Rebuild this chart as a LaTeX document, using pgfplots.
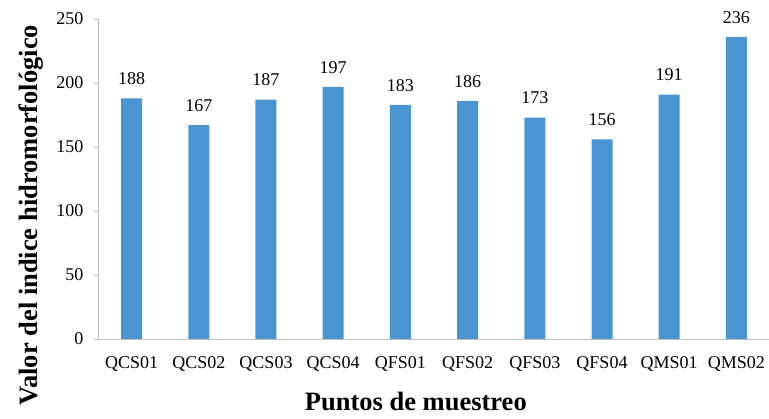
\documentclass[border=0pt]{standalone}
\usepackage{fontspec}
\setmainfont{Liberation Serif}
\usepackage{pgfplots}
\pgfplotsset{compat=1.18}
\definecolor{barblue}{RGB}{75,148,210}
\definecolor{axgray}{RGB}{191,191,191}
\begin{document}
\begin{tikzpicture}
\useasboundingbox (-98pt,-80pt) rectangle (671pt,339pt);
\begin{axis}[
  at={(0pt,0pt)}, anchor=south west,
  scale only axis,
  width=672pt, height=320pt,
  xmin=-0.5, xmax=9.5,
  ymin=0, ymax=250,
  ytick={0,50,100,150,200,250},
  xtick={0,...,9},
  xticklabels={QCS01,QCS02,QCS03,QCS04,QFS01,QFS02,QFS03,QFS04,QMS01,QMS02},
  axis x line*=bottom, axis y line*=left,
  axis line style={axgray, line width=0.9pt, -},
  x axis line style={shorten <=-3pt},
  tick align=outside,
  major tick length=4pt,
  ytick style={axgray, line width=0.9pt},
  xtick style={draw=none},
  /pgf/number format/assume math mode=true,
  tick label style={font=\fontsize{18}{21}\selectfont, black},
  yticklabel style={xshift=-7pt},
  xticklabel style={yshift=-10pt},
  ylabel={\textbf{Valor del indice hidromorfológico}},
  xlabel={\textbf{Puntos de muestreo}},
  label style={font=\fontsize{26.5}{30}\selectfont},
  xlabel style={at={(rel axis cs:0.473,0)}, anchor=base, yshift=-72pt},
  ylabel style={at={(rel axis cs:-0.1,0.387)}, anchor=center},
  nodes near coords,
  nodes near coords style={font=\fontsize{18}{21}\selectfont, black, yshift=10pt},
  point meta=explicit symbolic,
]
\addplot[ybar, bar width=21pt, fill=barblue, draw=none] coordinates {
  (0,188) [188] (1,167) [167] (2,187) [187] (3,197) [197] (4,183) [183]
  (5,186) [186] (6,173) [173] (7,156) [156] (8,191) [191] (9,236) [236]
};
\end{axis}
\end{tikzpicture}
\end{document}
